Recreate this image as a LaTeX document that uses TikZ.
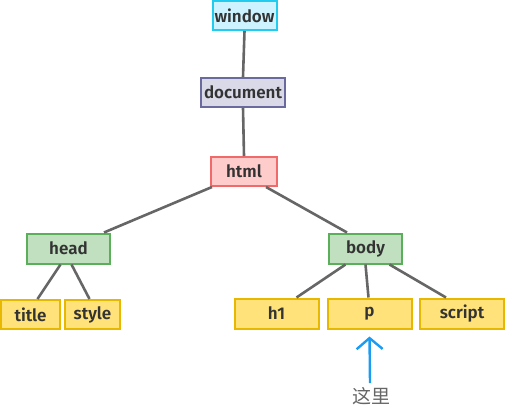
\documentclass[tikz,border=0pt]{standalone}
\usepackage{fontspec}
\setmainfont{Fira Sans}
\newfontfamily\tagfont{Fira Sans SemiBold}
\newfontfamily\cjk{Noto Sans CJK SC}
\definecolor{edgegray}{HTML}{666666}
\definecolor{txtgray}{HTML}{333333}
\definecolor{winfill}{HTML}{CCF3FF}
\definecolor{windraw}{HTML}{22CCEE}
\definecolor{docfill}{HTML}{D9D9E8}
\definecolor{docdraw}{HTML}{6A6A9E}
\definecolor{htmlfill}{HTML}{FFCCCC}
\definecolor{htmldraw}{HTML}{F06A6A}
\definecolor{secfill}{HTML}{C0E0C0}
\definecolor{secdraw}{HTML}{5BAF5B}
\definecolor{leaffill}{HTML}{FFE27A}
\definecolor{leafdraw}{HTML}{E8B800}
\definecolor{arrowblue}{HTML}{1A9CF2}
\usetikzlibrary{arrows.meta}

\begin{document}
\begin{tikzpicture}[x=1pt,y=-1pt,
	tag/.style={draw,line width=2pt,minimum height=29pt,inner sep=0pt,
		font=\tagfont\fontsize{17}{19}\selectfont,text=txtgray},
	link/.style={draw=edgegray,line width=2.6pt}]
		\useasboundingbox (0,0) rectangle (505,412);
		% top of the tree
		\node[tag,fill=winfill,draw=windraw,minimum width=64pt] (window) at (244.5,15.5) {window};
		\node[tag,fill=docfill,draw=docdraw,minimum width=84pt] (document) at (243,92.5) {document};
		\node[tag,fill=htmlfill,draw=htmldraw,minimum width=66pt] (html) at (244,171.5) {html};
		\node[tag,fill=secfill,draw=secdraw,minimum width=83pt,minimum height=30pt] (head) at (68.5,248.5) {head};
		\node[tag,fill=secfill,draw=secdraw,minimum width=73pt,minimum height=30pt] (body) at (365.5,248.5) {body};
		% leaves
		\node[tag,fill=leaffill,draw=leafdraw,minimum width=59pt] (title) at (30.5,314.5) {title};
		\node[tag,fill=leaffill,draw=leafdraw,minimum width=55pt] (style) at (92.5,314.5) {style};
		\node[tag,fill=leaffill,draw=leafdraw,minimum width=84pt,minimum height=30pt] (h1) at (276.5,313.5) {h1};
		\node[tag,fill=leaffill,draw=leafdraw,minimum width=84pt,minimum height=30pt] (p) at (369.5,313.5) {p};
		\node[tag,fill=leaffill,draw=leafdraw,minimum width=84pt,minimum height=30pt] (script) at (462,313.5) {script};
		\node[font=\cjk\fontsize{19}{21}\selectfont,text=edgegray,inner sep=1pt] (here) at (371,396) {这里};
		% connectors
		\draw[link] (window.south) -- (document.north);
		\draw[link] (document.south) -- (html.north);
		\draw[link] ([xshift=2pt]html.south west) -- ([xshift=-7pt]head.north east);
		\draw[link] ([xshift=-12pt]html.south east) -- ([xshift=19pt]body.north west);
		\draw[link] ([xshift=-8pt]head.south) -- ([xshift=7pt]title.north);
		\draw[link] ([xshift=3pt]head.south) -- ([xshift=-3pt]style.north);
		\draw[link] ([xshift=-20pt]body.south) -- ([xshift=20pt]h1.north);
		\draw[link] (body.south) -- ([xshift=-1pt]p.north);
		\draw[link] ([xshift=24pt]body.south) -- ([xshift=-16pt]script.north);
		\draw[arrowblue,line width=2.4pt,-{Straight Barb[length=11pt,width=26pt]}] ([xshift=-1pt,yshift=3pt]here.north) -- ([yshift=-7pt]p.south);
	\end{tikzpicture}
\end{document}
